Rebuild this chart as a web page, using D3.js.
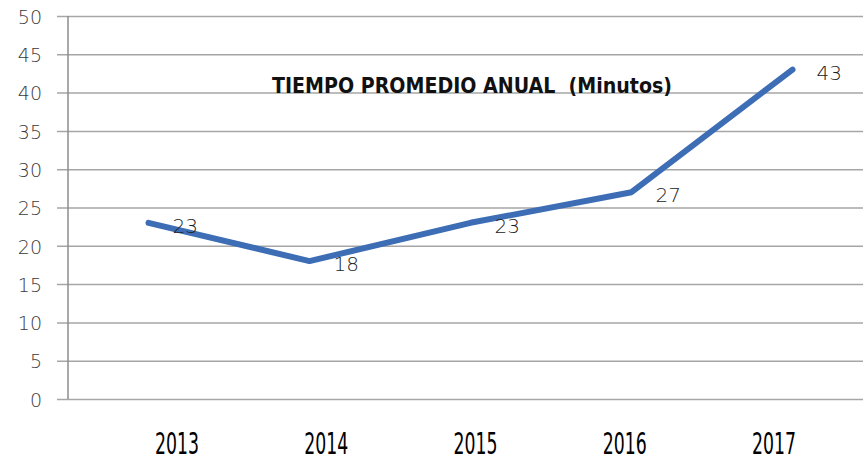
<!DOCTYPE html>
<html>
<head>
<meta charset="utf-8">
<script src="https://cdn.jsdelivr.net/npm/d3@7"></script>
<style>
  body { margin: 0; background: #fff; }
</style>
</head>
<body>
<div id="chart"></div>
<script>
var years = ["2013", "2014", "2015", "2016", "2017"];
var minutos = [23, 18, 23, 27, 43];
var yTicks = [0, 5, 10, 15, 20, 25, 30, 35, 40, 45, 50];
var titulo = "TIEMPO PROMEDIO ANUAL  (Minutos)";

var width = 863, height = 461;
var plot = {left: 68, right: 873, top: 16, bottom: 399};

var svg = d3.select("#chart").append("svg")
    .attr("width", width)
    .attr("height", height);

var xScale = d3.scaleBand()
    .domain(years)
    .range([plot.left, plot.right]);

var yScale = d3.scaleLinear()
    .domain([0, 50])
    .range([plot.bottom, plot.top]);

// labels of the years sit on their own spacing
var xLabel = d3.scalePoint()
    .domain(years)
    .range([177, 774]);

// grid + y axis
var yAxis = d3.axisLeft(yScale)
    .tickValues(yTicks)
    .tickSize(-(width - plot.left))
    .tickPadding(26)
    .tickFormat(d3.format("d"));

var gy = svg.append("g")
    .attr("transform", "translate(" + plot.left + ",0)")
    .call(yAxis);
gy.select(".domain").remove();
gy.selectAll(".tick line")
    .attr("x1", -11)
    .attr("stroke", "#a6a6a6")
    .attr("stroke-width", 1.5);
gy.selectAll(".tick text")
    .attr("fill", "#3a3a3a")
    .attr("dy", "0.38em")
    .style("font-family", "'DejaVu Sans'")
    .style("font-weight", "200")
    .style("font-size", "19px");

svg.append("line")
    .attr("x1", plot.left).attr("x2", plot.left)
    .attr("y1", yScale(50)).attr("y2", yScale(0))
    .attr("stroke", "#8c8c8c")
    .attr("stroke-width", 1.5);

// line
var line = d3.line()
    .x(function(d, i) { return xScale(years[i]) + xScale.bandwidth() / 2; })
    .y(function(d) { return yScale(d); });

svg.append("path")
    .datum(minutos)
    .attr("fill", "none")
    .attr("stroke", "#3d6db5")
    .attr("stroke-width", 6)
    .attr("stroke-linejoin", "round")
    .attr("stroke-linecap", "round")
    .attr("d", line);

// value labels
svg.selectAll(".val")
    .data(minutos)
    .enter().append("text")
    .attr("class", "val")
    .attr("x", function(d, i) { return xScale(years[i]) + xScale.bandwidth() / 2 + 24; })
    .attr("y", function(d) { return yScale(d) + 10; })
    .attr("fill", "#222")
    .style("font-family", "'DejaVu Sans'")
    .style("font-weight", "200")
    .style("font-size", "20px")
    .text(function(d) { return d; });

// year labels
svg.selectAll(".year")
    .data(years)
    .enter().append("text")
    .attr("class", "year")
    .attr("x", function(d) { return xLabel(d); })
    .attr("y", 454)
    .attr("text-anchor", "middle")
    .attr("textLength", 44)
    .attr("lengthAdjust", "spacingAndGlyphs")
    .attr("fill", "#000")
    .style("font-family", "'Liberation Sans Narrow', 'DejaVu Sans Condensed'")
    .style("font-size", "30px")
    .text(function(d) { return d; });

// title
svg.append("text")
    .attr("x", 272)
    .attr("y", 93)
    .attr("textLength", 400)
    .attr("lengthAdjust", "spacingAndGlyphs")
    .attr("fill", "#111")
    .style("font-family", "'Liberation Sans Narrow', 'DejaVu Sans Condensed'")
    .style("font-weight", "bold")
    .style("font-size", "21px")
    .style("white-space", "pre")
    .text(titulo);
</script>
</body>
</html>
